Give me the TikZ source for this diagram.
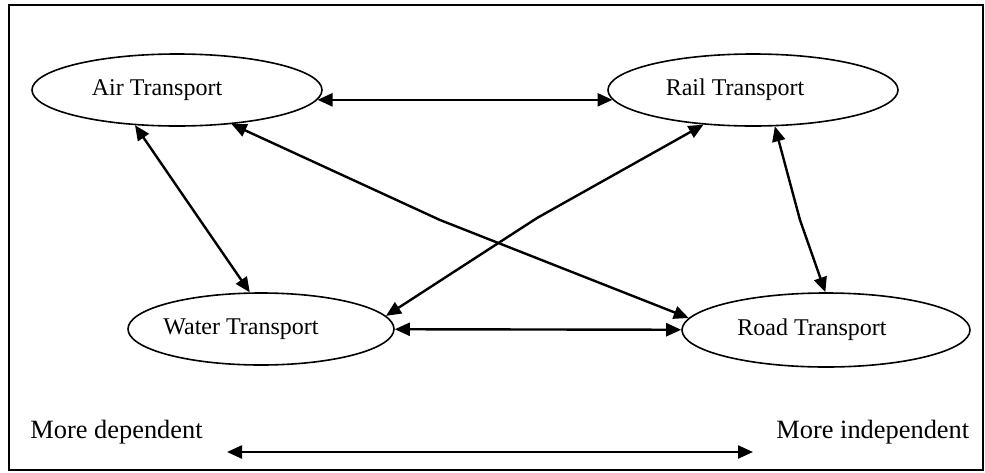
\documentclass[tikz,border=0pt]{standalone}
\usepackage{fontspec}
\setmainfont{Liberation Serif}
\usetikzlibrary{shapes.geometric,arrows.meta}
\newlength{\du}
\setlength{\du}{0.5pt}
\tikzset{
  mode/.style 2 args={ellipse,draw=dialinecolor,line width=1.6\du,inner sep=0pt,
    minimum width=#1\du,minimum height=#2\du},
  link/.style={line width=2.4\du,draw=dialinecolor,
    {Triangle[length=7.5pt,width=6.5pt]}-{Triangle[length=7.5pt,width=6.5pt]}},
  side/.style={anchor=west,inner sep=0pt,font=\fontsize{13.2}{15}\selectfont}
}

\begin{document}
\begin{tikzpicture}[font=\fontsize{12}{14}\selectfont]
\pgftransformxscale{1.000000}
\pgftransformyscale{-1.000000}
\definecolor{dialinecolor}{rgb}{0.000000, 0.000000, 0.000000}
\useasboundingbox (0\du,0\du) rectangle (985\du,472\du);
\draw[line width=1.6\du,draw=dialinecolor] (9\du,5\du) rectangle (983\du,470\du);
% transport modes
\node[mode={290}{72},label={[xshift=-10pt]center:Air Transport}] (air) at (177\du,90\du) {};
\node[mode={290}{72},label={[xshift=-9pt]center:Rail Transport}] (rail) at (753\du,90\du) {};
\node[mode={266}{72},label={[xshift=-10pt]center:Water Transport}] (water) at (261\du,329\du) {};
\node[mode={288}{74},label={[xshift=-7pt]center:Road Transport}] (road) at (826\du,330\du) {};
% bends
\coordinate (airwater) at (200\du,220\du);
\coordinate (airroad) at (440\du,220\du);
\coordinate (railwater) at (537\du,218\du);
\coordinate (railroad) at (800\du,220\du);
\draw[link] (air.-4)--(rail.184);
\draw[link] (air.220)--(airwater)--(water.107);
\draw[link] (air.-32)--(airroad)--(road.175);
\draw[link] (rail.215)--(railwater)--(water.6);
\draw[link] (rail.-59)--(railroad)--(road.91);
\draw[link] (water)--(road);
% scale at the bottom
\node[side] (dep) at (30\du,432\du) {More dependent};
\node[side] (indep) at (776\du,432\du) {More independent};
\coordinate (lo) at (227\du,452\du);
\coordinate (hi) at (753\du,452\du);
\draw[link] (lo)--(hi);
\end{tikzpicture}
\end{document}
